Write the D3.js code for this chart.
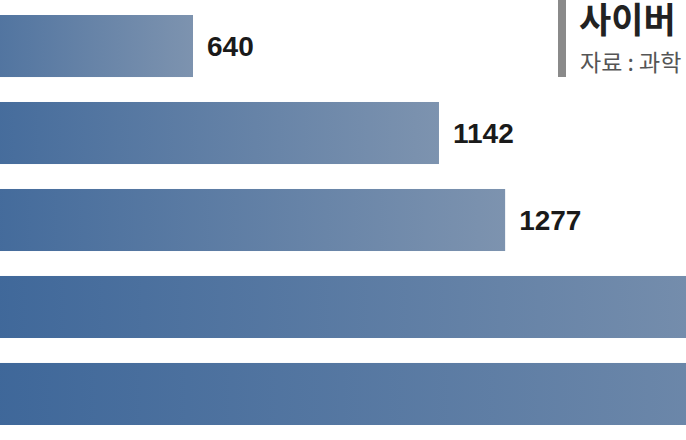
<!DOCTYPE html>
<html>
<head>
<meta charset="utf-8">
<script src="https://cdn.jsdelivr.net/npm/d3@7"></script>
<style>
  html, body { margin: 0; padding: 0; background: #ffffff; overflow: hidden; }
  svg { display: block; }
</style>
</head>
<body>
<script>
// Data (the last two bars run past the frame, so they are estimates)
const categories = ["2021", "2022", "2023", "2024", "2025"];
const values = [640, 1142, 1277, 1887, 2200];
const valueLabels = ["640", "1142", "1277", "", ""];
const titleText = "사이버";
const sourceText = "자료 : 과학";

const W = 686, H = 440;
const svg = d3.select("body").append("svg")
  .attr("width", W).attr("height", H)
  .style("font-family", "'Liberation Sans', Arial, sans-serif");

svg.append("rect").attr("width", W).attr("height", H).attr("fill", "#ffffff");

const defs = svg.append("defs");
const grad = defs.append("linearGradient")
  .attr("id", "barGrad")
  .attr("x1", "0").attr("y1", "0").attr("x2", "1").attr("y2", "0");
grad.append("stop").attr("offset", "0").attr("stop-color", "#376297");
grad.append("stop").attr("offset", "1").attr("stop-color", "#7d93af");

// The chart is cropped on the left: value 0 lies left of the frame
const x = d3.scaleLinear().domain([0, 2200]).range([-120.6, 957.4]);
const y = d3.scaleBand().domain(categories).range([15, 425]).paddingInner(0.287).paddingOuter(0);

const rows = categories.map((c, i) => ({ c, v: values[i], label: valueLabels[i] }));

svg.append("g").selectAll("rect").data(rows).join("rect")
  .attr("x", x(0))
  .attr("y", d => y(d.c))
  .attr("width", d => x(d.v) - x(0))
  .attr("height", y.bandwidth())
  .attr("fill", "url(#barGrad)");

svg.append("g").selectAll("text").data(rows.filter(d => d.label)).join("text")
  .attr("x", d => x(d.v) + 14)
  .attr("y", d => y(d.c) + y.bandwidth() / 2 + 10)
  .attr("font-size", 28)
  .attr("font-weight", "bold")
  .attr("fill", "#1a1a1a")
  .text(d => d.label);

// Title block (cut by the right edge)
svg.append("rect")
  .attr("x", 558).attr("y", 0).attr("width", 8).attr("height", 77)
  .attr("fill", "#8a8a8a");

svg.append("text")
  .attr("x", 579).attr("y", 33)
  .attr("font-family", "'Noto Sans CJK KR', sans-serif")
  .attr("font-size", 35).attr("font-weight", "bold")
  .attr("fill", "#222222")
  .text(titleText);

svg.append("text")
  .attr("x", 580).attr("y", 71)
  .attr("font-family", "'Noto Sans CJK KR', sans-serif")
  .attr("font-size", 23)
  .attr("fill", "#555555")
  .text(sourceText);
</script>
</body>
</html>
